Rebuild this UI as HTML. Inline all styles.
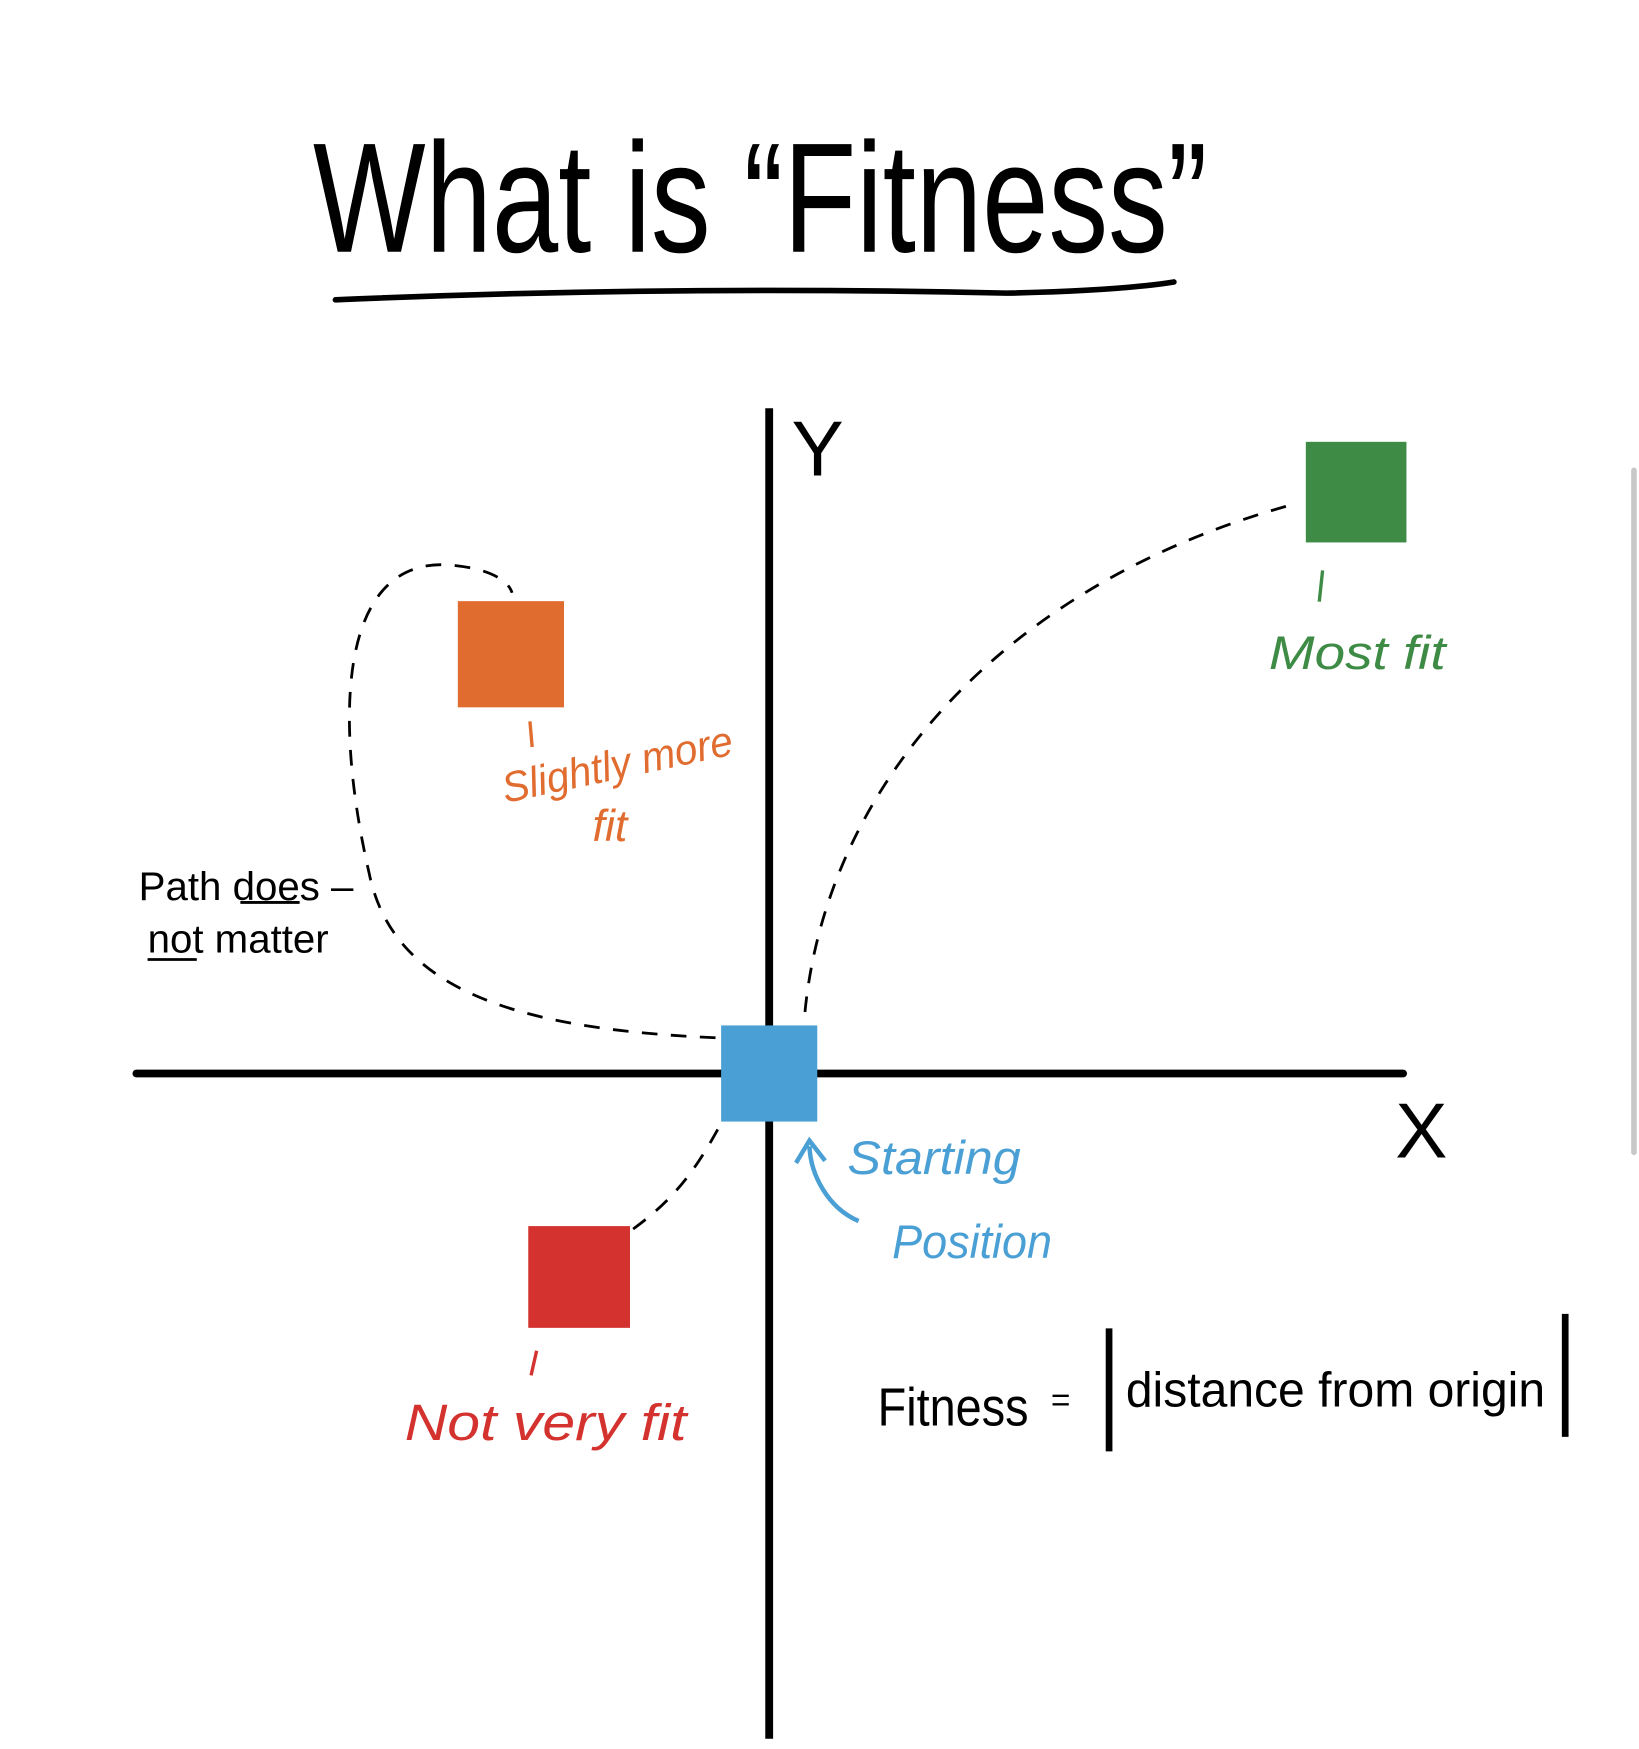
<!DOCTYPE html>
<html><head><meta charset="utf-8"><style>
html,body{margin:0;padding:0;background:#fff;}
svg{display:block;}
text{font-family:"Liberation Sans",sans-serif;}
</style></head><body>
<svg id="chart" width="1639" height="1749" viewBox="0 0 1466 1564" xmlns="http://www.w3.org/2000/svg">
<g>
<text x="280" y="225" font-size="140" fill="#000" textLength="800" lengthAdjust="spacingAndGlyphs">What  is “Fitness”</text>
<path d="M300 268 Q600 255 900 262 Q1000 260 1050 252" stroke="#000" stroke-width="5" fill="none" stroke-linecap="round"/>
</g>
<g>
<line x1="688" y1="365" x2="688" y2="1555" stroke="#000" stroke-width="7"/>
<line x1="122" y1="960" x2="1255" y2="960" stroke="#000" stroke-width="7" stroke-linecap="round"/>
<text x="708" y="425" font-size="70">Y</text>
<text x="1248" y="1035" font-size="70">X</text>
</g>
<g fill="none" stroke="#000" stroke-width="2.5" stroke-dasharray="14 12">
<path d="M720 905 C740 700 900 520 1160 450"/>
<path d="M640 928 C450 920 350 880 330 780 C300 650 300 500 400 505 C440 508 455 520 458 530"/>
<path d="M642 1010 C620 1050 600 1075 565 1100"/>
</g>
<g id="squares"></g>
<g>
<line x1="1183" y1="510" x2="1180" y2="538" stroke="#3d8b45" stroke-width="3"/>
<text x="1135" y="598" font-size="42" fill="#3d8b45" font-style="italic" textLength="158" lengthAdjust="spacingAndGlyphs">Most fit</text>
<line x1="474" y1="645" x2="476" y2="668" stroke="#e06c30" stroke-width="3"/>
<text x="452" y="718" font-size="38" fill="#e06c30" font-style="italic" transform="rotate(-12 452 718)" textLength="210" lengthAdjust="spacingAndGlyphs">Slightly more</text>
<text x="530" y="752" font-size="40" fill="#e06c30" font-style="italic">fit</text>
<line x1="480" y1="1208" x2="475" y2="1230" stroke="#d4322e" stroke-width="3"/>
<text x="362" y="1288" font-size="46" fill="#d4322e" font-style="italic" textLength="252" lengthAdjust="spacingAndGlyphs">Not very fit</text>
<text x="758" y="1050" font-size="42" fill="#4a9fd4" font-style="italic" textLength="155" lengthAdjust="spacingAndGlyphs">Starting</text>
<text x="798" y="1125" font-size="42" fill="#4a9fd4" font-style="italic" textLength="143" lengthAdjust="spacingAndGlyphs">Position</text>
<path d="M768 1092 C740 1080 725 1050 724 1025 M712 1040 L724 1020 L738 1038" stroke="#4a9fd4" stroke-width="4" fill="none"/>
<text x="124" y="805" font-size="36">Path does –</text>
<text x="132" y="852" font-size="36">not matter</text>
<line x1="215" y1="807" x2="268" y2="807" stroke="#000" stroke-width="2.5"/>
<line x1="132" y1="858" x2="176" y2="858" stroke="#000" stroke-width="2.5"/>
<text x="785" y="1275" font-size="48" textLength="135" lengthAdjust="spacingAndGlyphs">Fitness</text>
<text x="940" y="1262" font-size="30">=</text>
<line x1="992" y1="1188" x2="992" y2="1298" stroke="#000" stroke-width="6"/>
<text x="1007" y="1258" font-size="44" textLength="375" lengthAdjust="spacingAndGlyphs">distance from origin</text>
<line x1="1400" y1="1175" x2="1400" y2="1285" stroke="#000" stroke-width="6"/>
</g>
<rect x="1459" y="418" width="5" height="615" rx="2.5" fill="#c8c8c8"/>
</svg>
<script>
const pointNames = ["start", "most-fit", "slightly-fit", "not-fit"];
const pointX = [0, 525, -231, -170];
const pointY = [0, 520, 375, -182];
const pointColors = ["#4a9fd4", "#3d8b45", "#e06c30", "#d4322e"];
const pointSizes = [86, 90, 95, 91];
const ox = 688, oy = 960;
function sx(v){ return ox + v; }
function sy(v){ return oy - v; }
const g = document.getElementById('squares');
pointNames.forEach(function(n, i){
  const r = document.createElementNS('http://www.w3.org/2000/svg','rect');
  const s = pointSizes[i];
  r.setAttribute('x', sx(pointX[i]) - s/2);
  r.setAttribute('y', sy(pointY[i]) - s/2);
  r.setAttribute('width', s);
  r.setAttribute('height', s);
  r.setAttribute('fill', pointColors[i]);
  
  
  g.appendChild(r);
});
</script>
</body></html>
